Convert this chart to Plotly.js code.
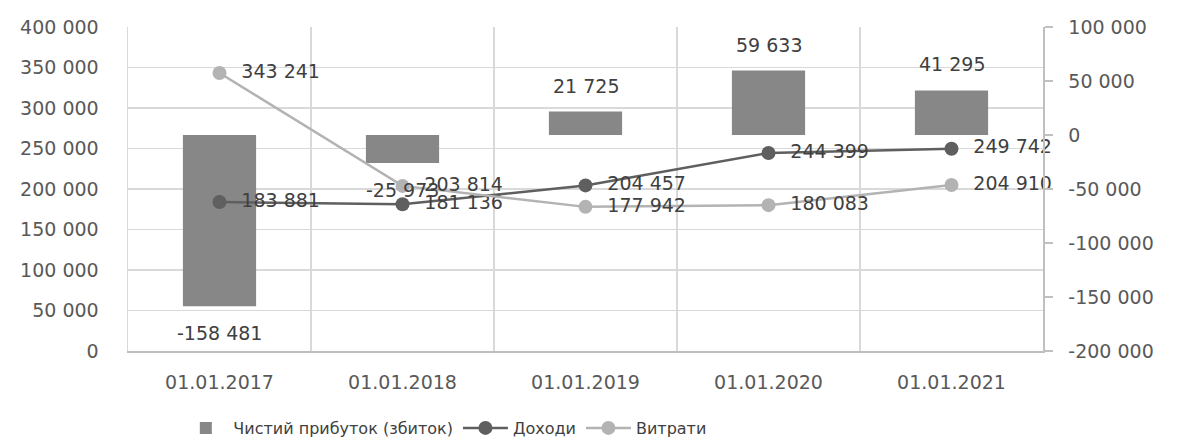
<!DOCTYPE html>
<html>
<head>
<meta charset="utf-8">
<script src="https://cdn.plot.ly/plotly-3.0.1.min.js"></script>
<style>html,body{margin:0;padding:0;background:#fff}#chart{width:1177px;height:445px}</style>
</head>
<body>
<div id="chart"></div>
<script>
const categories = ['01.01.2017', '01.01.2018', '01.01.2019', '01.01.2020', '01.01.2021'];
const netProfit = [-158481, -25973, 21725, 59633, 41295];
const income = [183881, 181136, 204457, 244399, 249742];
const expenses = [343241, 203814, 177942, 180083, 204910];
const seriesNames = ['Чистий прибуток (збиток)', 'Доходи', 'Витрати'];
const leftTicks = [0, 50000, 100000, 150000, 200000, 250000, 300000, 350000, 400000];
const rightTicks = [-200000, -150000, -100000, -50000, 0, 50000, 100000];

const fmt = v => {
  const s = Math.abs(v).toString().replace(/\B(?=(\d{3})+(?!\d))/g, ' ');
  return (v < 0 ? '-' : '') + s;
};

const FONT = 'DejaVu Sans, sans-serif';
const txtColor = '#404040';
const FS = 19;

const traces = [
  {
    type: 'bar', name: seriesNames[0], x: categories, y: netProfit,
    yaxis: 'y', marker: {color: '#878787'}, width: 0.4, hoverinfo: 'skip'
  },
  {
    type: 'scatter', mode: 'lines+markers+text', name: seriesNames[1], x: categories, y: income,
    yaxis: 'y2', line: {color: '#5f5f5f', width: 2.5}, marker: {color: '#5f5f5f', size: 14},
    text: income.map(v => '\u00a0\u00a0' + fmt(v)), textposition: 'middle right', cliponaxis: false,
    textfont: {family: FONT, size: FS, color: txtColor}
  },
  {
    type: 'scatter', mode: 'lines+markers+text', name: seriesNames[2], x: categories, y: expenses,
    yaxis: 'y2', line: {color: '#b3b3b3', width: 2.5}, marker: {color: '#b3b3b3', size: 14},
    text: expenses.map(v => '\u00a0\u00a0' + fmt(v)), textposition: 'middle right', cliponaxis: false,
    textfont: {family: FONT, size: FS, color: txtColor}
  }
];

// bar data labels, placed by the library from the data arrays
const barLabels = categories.map((c, i) => ({
  x: c, y: netProfit[i], xref: 'x', yref: 'y', text: fmt(netProfit[i]),
  showarrow: false, yshift: netProfit[i] >= 0 ? 26 : -27,
  font: {family: FONT, size: FS, color: txtColor}
}));

const layout = {
  width: 1177, height: 445,
  margin: {l: 128, r: 134, t: 27, b: 94},
  paper_bgcolor: '#fff', plot_bgcolor: '#fff',
  font: {family: FONT, size: FS, color: '#595959'},
  showlegend: true,
  legend: {orientation: 'h', x: 0.055, xanchor: 'left', xref: 'paper',
           yref: 'container', y: 0.0, yanchor: 'bottom', itemwidth: 45,
           font: {family: FONT, size: 16, color: '#404040'}, traceorder: 'normal'},
  annotations: barLabels,
  xaxis: {
    type: 'category', tickson: 'boundaries', showgrid: true, gridcolor: '#d9d9d9', gridwidth: 1.5,
    showline: true, linecolor: '#bfbfbf', linewidth: 1.5, ticks: '', ticklabelstandoff: 14,
    tickfont: {family: FONT, size: FS, color: '#595959'}, zeroline: false
  },
  yaxis: {
    side: 'right', range: [-200000, 100000], tickvals: rightTicks, ticktext: rightTicks.map(fmt),
    showgrid: false, zeroline: false, showline: true, linecolor: '#bfbfbf', linewidth: 1.5,
    ticks: 'outside', ticklen: 8, tickcolor: '#bfbfbf', tickwidth: 1.5, ticklabelstandoff: 12,
    tickfont: {family: FONT, size: FS, color: '#595959'}
  },
  yaxis2: {
    side: 'left', overlaying: 'y', range: [0, 400000], tickvals: leftTicks, ticktext: leftTicks.map(fmt),
    showgrid: true, gridcolor: '#d9d9d9', gridwidth: 1.5, zeroline: false,
    showline: true, linecolor: '#d9d9d9', linewidth: 1.5, ticks: '', ticklabelstandoff: 24,
    tickfont: {family: FONT, size: FS, color: '#595959'}
  }
};

Plotly.newPlot('chart', traces, layout, {displayModeBar: false, staticPlot: true});
</script>
</body>
</html>
